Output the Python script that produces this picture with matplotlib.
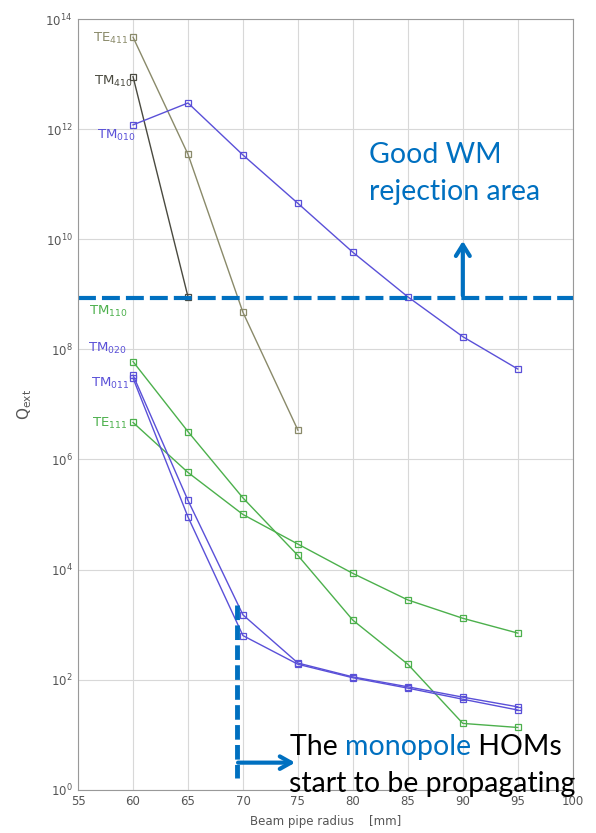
import matplotlib.pyplot as plt
import numpy as np

plt.rcParams['font.family'] = ['DejaVu Sans']

# beam pipe radius [mm]
r = [60, 65, 70, 75, 80, 85, 90, 95]

te411 = [4.7e13, 3.5e11, 4.7e8, 3.4e6]
tm410 = [9e12, 9e8]
tm010 = [1.2e12, 3e12, 3.4e11, 4.5e10, 5.8e9, 9e8, 1.7e8, 4.4e7]
tm110 = [6e7, 3.2e6, 2e5, 1.8e4, 1.2e3, 190, 16, 13.5]
te111 = [4.7e6, 5.8e5, 1e5, 2.9e4, 8.5e3, 2.8e3, 1.3e3, 700]
tm020 = [3.4e7, 1.8e5, 1.5e3, 200, 112, 74, 48, 32]
tm011 = [3.0e7, 9e4, 630, 190, 108, 70, 44, 28]

rejection_level = 8.5e8
propagation_radius = 69.45

c_te411 = '#8a8a6a'
c_tm410 = '#4a4a40'
c_blue = '#5a50d8'
c_green = '#4cb04c'
c_annot = '#0070C0'

fig = plt.figure(figsize=(5.96, 8.33), dpi=100)
ax = fig.add_axes([0.131, 0.052, 0.830, 0.925])

mk = dict(marker='s', markerfacecolor='none', markersize=5, lw=1, mew=0.9)
ax.plot(r[:4], te411, color=c_te411, **mk)
ax.plot(r[:2], tm410, color=c_tm410, **mk)
ax.plot(r, tm010, color=c_blue, **mk)
ax.plot(r, tm110, color=c_green, **mk)
ax.plot(r, te111, color=c_green, **mk)
ax.plot(r, tm020, color=c_blue, **mk)
ax.plot(r, tm011, color=c_blue, **mk)

ax.set_yscale('log')
ax.set_xlim(55, 100)
ax.set_ylim(1, 1e14)
ax.set_xticks(np.arange(55, 101, 5))
ax.set_yticks([10.0 ** k for k in range(0, 15, 2)])
ax.minorticks_off()
ax.grid(True, color='#d8d8d8', lw=0.8)
ax.tick_params(labelsize=8.5, colors='#555555', length=0, pad=4)
for s in ax.spines.values():
    s.set_color('#999999')

ax.set_xlabel('Beam pipe radius    [mm]', fontsize=8.5, color='#555555', labelpad=5)
ax.set_ylabel(r'Q$_{\rm ext}$', fontsize=11, color='#555555', labelpad=8)

# mode labels
lbl = dict(fontsize=9.5, ha='left', va='baseline')
ax.text(56.35, 3.8e13, r'TE$_{411}$', color=c_te411, **lbl)
ax.text(56.45, 6.3e12, r'TM$_{410}$', color=c_tm410, **lbl)
ax.text(56.7, 6.6e11, r'TM$_{010}$', color=c_blue, **lbl)
ax.text(56.0, 4.2e8, r'TM$_{110}$', color=c_green, **lbl)
ax.text(55.9, 9.0e7, r'TM$_{020}$', color=c_blue, **lbl)
ax.text(56.2, 2.1e7, r'TM$_{011}$', color=c_blue, **lbl)
ax.text(56.3, 3.9e6, r'TE$_{111}$', color=c_green, **lbl)

# rejection area annotation
ax.axhline(rejection_level, color=c_annot, lw=3, ls=(0, (4.3, 1.45)))
ax.annotate('', xy=(90, 1.05e10), xytext=(90, rejection_level),
            arrowprops=dict(arrowstyle='->,head_width=0.5,head_length=0.8',
                            color=c_annot, lw=3))
big = dict(fontsize=20.5, family='Lato', ha='left', va='baseline')
ax.text(81.5, 2.4e11, 'Good WM', color=c_annot, **big)
ax.text(81.5, 5.1e10, 'rejection area', color=c_annot, **big)

# propagation annotation
ax.plot([propagation_radius, propagation_radius], [2.3e3, 1.65],
        color=c_annot, lw=3.5, ls=(0, (3, 1.1)))
ax.annotate('', xy=(75.0, 3.1), xytext=(propagation_radius - 0.15, 3.1),
            arrowprops=dict(arrowstyle='->,head_width=0.45,head_length=0.8',
                            color=c_annot, lw=3), annotation_clip=False)
t1 = ax.text(74.3, 4.3, 'The ', **big)
t2 = ax.annotate('monopole', xy=(1, 0), xycoords=t1, fontsize=20.5,
                 family='Lato', color=c_annot, va='bottom')
ax.annotate(' HOMs', xy=(1, 0), xycoords=t2, fontsize=20.5,
            family='Lato', va='bottom')
ax.text(74.2, 0.92, 'start to be propagating', clip_on=False, **big)

fig.savefig('out.png', dpi=100)
